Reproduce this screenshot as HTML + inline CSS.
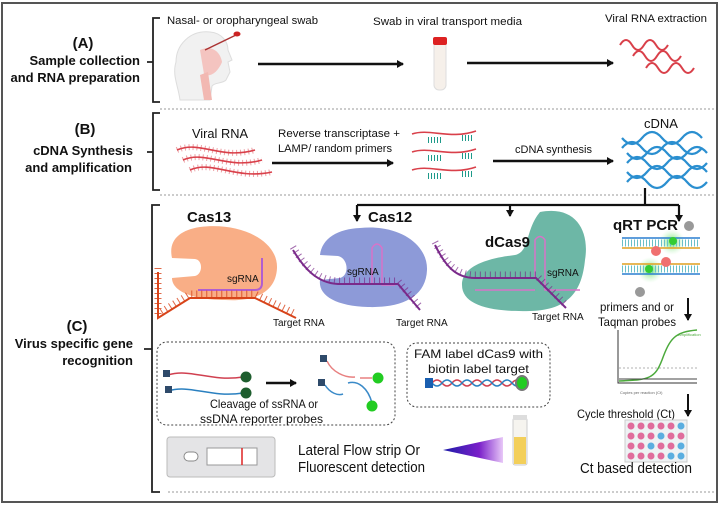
<!DOCTYPE html>
<html><head><meta charset="utf-8"><style>
html,body{margin:0;padding:0;background:#fff;}
svg{display:block;font-family:"Liberation Sans",sans-serif;}
</style></head><body>
<svg width="720" height="505" viewBox="0 0 720 505" xmlns="http://www.w3.org/2000/svg">
<defs>
<marker id="ah" markerWidth="8" markerHeight="8" refX="6" refY="4" orient="auto" markerUnits="userSpaceOnUse"><path d="M0,0 L7,4 L0,8 z" fill="#111"/></marker>
<radialGradient id="glow"><stop offset="0" stop-color="#5fe05f"/><stop offset="1" stop-color="#c8f5c8" stop-opacity="0"/></radialGradient>
<linearGradient id="tri" x1="0" x2="1"><stop offset="0" stop-color="#1c1ca8"/><stop offset="0.6" stop-color="#7a1fc9"/><stop offset="1" stop-color="#e8c8f8"/></linearGradient>
</defs>
<rect x="2" y="3" width="715" height="499" fill="#fff" stroke="#555" stroke-width="2"/>

<g font-weight="bold" fill="#111" text-anchor="end" font-size="13">
<text x="83" y="48" text-anchor="middle" font-size="15">(A)</text>
<text x="140" y="65">Sample collection</text>
<text x="140" y="82">and RNA preparation</text>
<text x="85" y="134" text-anchor="middle" font-size="15">(B)</text>
<text x="133" y="155">cDNA Synthesis</text>
<text x="132" y="172">and amplification</text>
<text x="77" y="331" text-anchor="middle" font-size="15">(C)</text>
<text x="133" y="348">Virus specific gene</text>
<text x="133" y="365">recognition</text>
</g>
<g fill="none" stroke="#222" stroke-width="1.8">
<path d="M160,18 H153 V102 H160 M147,62 H153"/>
<path d="M160,113 H153 V190 H160 M147,152 H153"/>
<path d="M160,205 H152 V492 H160 M144,349 H152"/>
</g>
<g stroke="#999" stroke-width="1" stroke-dasharray="2,2">
<line x1="160" y1="109" x2="715" y2="109"/>
<line x1="160" y1="195" x2="715" y2="195"/>
<line x1="168" y1="492" x2="715" y2="492"/>
</g>

<g font-size="11" fill="#111" lengthAdjust="spacingAndGlyphs">
<text x="167" y="24" textLength="151" lengthAdjust="spacingAndGlyphs">Nasal- or oropharyngeal swab</text>
<text x="373" y="25" textLength="149" lengthAdjust="spacingAndGlyphs">Swab in viral transport media</text>
<text x="605" y="22" textLength="102" lengthAdjust="spacingAndGlyphs">Viral RNA extraction</text>
</g>
<path d="M180,100 C178,85 172,75 176,62 C176,45 190,30 210,32 C222,33 228,42 228,50 L232,60 L228,62 L230,72 L226,80 C222,84 215,82 212,86 L210,100 Z" fill="#f1f1f1" stroke="#ddd"/>
<path d="M200,50 C210,45 220,50 222,62 C218,72 210,78 204,74 Z" fill="#f4c4c0"/>
<path d="M200,75 L204,100 L212,100 L208,72 Z" fill="#f2b8b2"/>
<line x1="205" y1="50" x2="236" y2="35" stroke="#a33" stroke-width="1.5"/>
<ellipse cx="237" cy="34" rx="3.5" ry="2.5" fill="#c22"/>
<line x1="258" y1="64" x2="403" y2="64" stroke="#111" stroke-width="2.5" marker-end="url(#ah)"/>
<rect x="434" y="40" width="12" height="50" rx="5" fill="#f6f0ea" stroke="#ddd"/>
<rect x="433" y="37" width="14" height="8" rx="2" fill="#d22"/>
<line x1="467" y1="63" x2="613" y2="63" stroke="#111" stroke-width="2.5" marker-end="url(#ah)"/>
<g fill="none" stroke="#d9404a" stroke-width="2">
<path d="M620,45 q6,-10 12,0 t12,0 t12,0 t12,0"/>
<path d="M633,56 q6,-10 12,0 t12,0 t12,0 t12,0"/>
<path d="M646,68 q6,-10 12,0 t12,0 t12,0 t12,0"/>
</g>

<g font-size="11" fill="#111">
<text x="192" y="138" font-size="13" textLength="56" lengthAdjust="spacingAndGlyphs">Viral RNA</text>
<text x="278" y="137" textLength="122" lengthAdjust="spacingAndGlyphs">Reverse transcriptase +</text>
<text x="278" y="152" textLength="114" lengthAdjust="spacingAndGlyphs">LAMP/ random primers</text>
<text x="515" y="153" textLength="77" lengthAdjust="spacingAndGlyphs">cDNA synthesis</text>
<text x="644" y="128" font-size="13">cDNA</text>
</g>
<g fill="none" stroke="#d9404a" stroke-width="1.6">
<path d="M177,150 C200,140 220,160 255,150"/>
<path d="M183,160 C205,150 228,170 262,160"/>
<path d="M190,170 C212,160 235,180 272,172"/>
<path d="M177,150 C200,140 220,160 255,150" stroke-dasharray="1,3" stroke-width="6" stroke-opacity="0.5"/>
<path d="M183,160 C205,150 228,170 262,160" stroke-dasharray="1,3" stroke-width="6" stroke-opacity="0.5"/>
<path d="M190,170 C212,160 235,180 272,172" stroke-dasharray="1,3" stroke-width="6" stroke-opacity="0.5"/>
</g>
<line x1="272" y1="163" x2="393" y2="163" stroke="#111" stroke-width="2.5" marker-end="url(#ah)"/>
<g fill="none" stroke-width="1.6">
<g stroke="#d9404a"><path d="M412,134 C430,128 450,140 476,131"/><path d="M412,152 C430,146 450,158 476,149"/><path d="M412,170 C430,164 450,176 476,167"/></g>
<g stroke="#1e9a8a" stroke-width="6" stroke-dasharray="1,2"><path d="M428,140 h14 M462,138 h12 M428,158 h14 M462,156 h12 M428,176 h14 M462,174 h12"/></g>
</g>
<line x1="493" y1="161" x2="613" y2="161" stroke="#111" stroke-width="2.5" marker-end="url(#ah)"/>
<g fill="none" stroke="#2b8fd0" stroke-width="2.2">
<path d="M622,138 q10,12 20,0 t20,0 t20,0 t20,0"/><path d="M622,148 q10,-12 20,0 t20,0 t20,0 t20,0"/>
<path d="M627,153 q10,12 20,0 t20,0 t20,0 t20,0"/><path d="M627,163 q10,-12 20,0 t20,0 t20,0 t20,0"/>
<path d="M627,172 q10,12 20,0 t20,0 t20,0 t20,0"/><path d="M627,182 q10,-12 20,0 t20,0 t20,0 t20,0"/>
</g>

<g stroke="#111" stroke-width="2.2" fill="none">
<path d="M645,188 V205 M357,205 H679"/>
<line x1="357" y1="205" x2="357" y2="221" marker-end="url(#ah)"/>
<line x1="510" y1="205" x2="510" y2="216" marker-end="url(#ah)"/>
<line x1="679" y1="205" x2="679" y2="221" marker-end="url(#ah)"/>
</g>

<text x="187" y="222" font-size="15" font-weight="bold" fill="#111">Cas13</text>
<path d="M200,227 C240,222 278,240 277,268 C276,292 255,302 225,300 C195,300 172,292 172,278 L195,276 C203,274 203,260 195,259 L172,258 C168,240 180,230 200,227 Z" fill="#f9ae86"/>
<path d="M198,290 H255 Q262,290 262,283 V258" fill="none" stroke="#b05ed0" stroke-width="2"/>
<path d="M158,272 V318 L190,298 H255 L296,318" fill="none" stroke="#d8441a" stroke-width="2"/>
<path d="M158,272 V318 L190,298 H255 L296,318" fill="none" stroke="#d8441a" stroke-width="7" stroke-dasharray="1,4" transform="translate(0,-4)" stroke-opacity="0.8"/>
<text x="227" y="282" font-size="10" fill="#111">sgRNA</text>
<text x="273" y="326" font-size="10" fill="#111">Target RNA</text>

<text x="368" y="222" font-size="15" font-weight="bold" fill="#111">Cas12</text>
<path d="M360,228 C400,224 428,245 427,270 C426,298 400,308 368,307 C335,306 318,295 320,280 L340,278 C350,275 348,258 338,256 L320,255 C322,238 338,229 360,228 Z" fill="#8d9ad8"/>
<path d="M372,284 V248 Q377,240 382,248 V285 H395" fill="none" stroke="#d873c8" stroke-width="1.5"/>
<path d="M293,250 C305,270 318,283 338,284 H398 L420,310" fill="none" stroke="#7a2a8a" stroke-width="2"/>
<path d="M293,250 C305,270 318,283 338,284 H398 L420,310" fill="none" stroke="#7a2a8a" stroke-width="7" stroke-dasharray="1,4" stroke-opacity="0.7" transform="translate(0,-3)"/>
<text x="347" y="275" font-size="10" fill="#111">sgRNA</text>
<text x="396" y="326" font-size="10" fill="#111">Target RNA</text>

<path d="M540,212 C575,205 590,230 585,260 C582,290 570,310 530,311 C490,312 462,305 462,285 C462,265 490,258 515,255 C530,252 525,230 540,212 Z" fill="#6db7a6"/>
<text x="485" y="247" font-size="15" font-weight="bold" fill="#111">dCas9</text>
<path d="M535,278 V240 Q540,233 545,240 V290 H580 M475,290 H535" fill="none" stroke="#d873c8" stroke-width="1.5"/>
<path d="M435,245 C445,265 455,278 475,278 H536 L566,308" fill="none" stroke="#7a2a8a" stroke-width="2"/>
<path d="M435,245 C445,265 455,278 475,278 H536 L566,308" fill="none" stroke="#7a2a8a" stroke-width="7" stroke-dasharray="1,4" stroke-opacity="0.7" transform="translate(0,-3)"/>
<text x="547" y="276" font-size="10" fill="#111">sgRNA</text>
<text x="532" y="320" font-size="10" fill="#111">Target RNA</text>

<text x="613" y="230" font-size="15" font-weight="bold" fill="#111">qRT PCR</text>
<circle cx="672" cy="242" r="13" fill="url(#glow)"/>
<circle cx="650" cy="270" r="13" fill="url(#glow)"/>
<g stroke-width="1.6">
<line x1="622" y1="238" x2="700" y2="238" stroke="#2a7fd0"/>
<line x1="622" y1="248" x2="700" y2="248" stroke="#e0a020"/>
<line x1="622" y1="243" x2="700" y2="243" stroke="#6ac0c8" stroke-width="7" stroke-dasharray="1,2"/>
<line x1="622" y1="264" x2="700" y2="264" stroke="#e0a020"/>
<line x1="622" y1="274" x2="700" y2="274" stroke="#2a7fd0"/>
<line x1="622" y1="269" x2="700" y2="269" stroke="#6ac0c8" stroke-width="7" stroke-dasharray="1,2"/>
</g>
<circle cx="656" cy="251" r="5" fill="#f07070"/><circle cx="666" cy="262" r="5" fill="#f07070"/>
<circle cx="673" cy="241" r="4" fill="#3c3"/><circle cx="649" cy="269" r="4" fill="#3c3"/>
<circle cx="689" cy="226" r="5" fill="#999"/><circle cx="640" cy="292" r="5" fill="#999"/>
<text x="600" y="311" font-size="12" fill="#111" textLength="74" lengthAdjust="spacingAndGlyphs">primers and or</text>
<text x="598" y="326" font-size="12" fill="#111" textLength="78" lengthAdjust="spacingAndGlyphs">Taqman probes</text>
<line x1="688" y1="298" x2="688" y2="320" stroke="#111" stroke-width="2" marker-end="url(#ah)"/>
<path d="M618,330 V383 H697" fill="none" stroke="#333" stroke-width="1"/>
<line x1="619" y1="368" x2="697" y2="368" stroke="#999" stroke-width="0.8" stroke-dasharray="2,2"/>
<path d="M619,381 C650,380 655,378 662,360 C670,338 675,332 697,330" fill="none" stroke="#4caa3c" stroke-width="1.5"/>
<line x1="619" y1="379" x2="697" y2="379" stroke="#444" stroke-width="1"/>
<text x="678" y="336" font-size="4" fill="#4caa3c">Amplification</text>
<text x="620" y="394" font-size="4" fill="#666">Copies per reaction (Ct)</text>
<line x1="688" y1="394" x2="688" y2="416" stroke="#111" stroke-width="2" marker-end="url(#ah)"/>
<text x="577" y="418" font-size="12" fill="#111" textLength="98" lengthAdjust="spacingAndGlyphs">Cycle threshold (Ct)</text>
<rect x="625" y="420" width="62" height="42" fill="#eef2f4" stroke="#ccc"/>
<g fill="#e06c9c">
<circle cx="631" cy="426" r="3.5"/><circle cx="641" cy="426" r="3.5"/><circle cx="651" cy="426" r="3.5"/><circle cx="661" cy="426" r="3.5"/><circle cx="671" cy="426" r="3.5"/>
<circle cx="631" cy="436" r="3.5"/><circle cx="641" cy="436" r="3.5"/><circle cx="651" cy="436" r="3.5"/><circle cx="671" cy="436" r="3.5"/><circle cx="681" cy="436" r="3.5"/>
<circle cx="631" cy="446" r="3.5"/><circle cx="641" cy="446" r="3.5"/><circle cx="661" cy="446" r="3.5"/><circle cx="671" cy="446" r="3.5"/>
<circle cx="631" cy="456" r="3.5"/><circle cx="641" cy="456" r="3.5"/><circle cx="651" cy="456" r="3.5"/><circle cx="661" cy="456" r="3.5"/>
</g>
<g fill="#5aaee0">
<circle cx="681" cy="426" r="3.5"/><circle cx="661" cy="436" r="3.5"/><circle cx="651" cy="446" r="3.5"/><circle cx="681" cy="446" r="3.5"/><circle cx="671" cy="456" r="3.5"/><circle cx="681" cy="456" r="3.5"/>
</g>
<text x="580" y="473" font-size="15" fill="#111" textLength="112" lengthAdjust="spacingAndGlyphs">Ct based detection</text>

<rect x="157" y="342" width="238" height="83" rx="10" fill="none" stroke="#444" stroke-width="1" stroke-dasharray="2,2"/>
<g fill="none" stroke-width="1.5">
<path d="M168,375 C190,368 210,382 243,377" stroke="#d04050"/>
<path d="M168,391 C190,384 210,398 243,393" stroke="#2a80c0"/>
<path d="M327,361 C332,372 345,378 355,377 M360,378 H372" stroke="#e88080"/>
<path d="M325,385 C330,393 338,396 343,394 M348,383 C358,380 368,388 372,403" stroke="#3a8ac8"/>
</g>
<rect x="163" y="370" width="7" height="7" fill="#2e4a6a"/><rect x="165" y="386" width="7" height="7" fill="#2e4a6a"/>
<rect x="320" y="355" width="7" height="7" fill="#2e4a6a"/><rect x="318" y="379" width="7" height="7" fill="#2e4a6a"/>
<circle cx="246" cy="377" r="5.5" fill="#1e5e2e"/><circle cx="246" cy="393" r="5.5" fill="#1e5e2e"/>
<circle cx="378" cy="378" r="5.5" fill="#2c2"/><circle cx="372" cy="406" r="5.5" fill="#2c2"/>
<line x1="266" y1="383" x2="296" y2="383" stroke="#111" stroke-width="2.5" marker-end="url(#ah)"/>
<text x="210" y="408" font-size="12" fill="#111" textLength="108" lengthAdjust="spacingAndGlyphs">Cleavage of ssRNA or</text>
<text x="200" y="423" font-size="12" fill="#111" textLength="123" lengthAdjust="spacingAndGlyphs">ssDNA reporter probes</text>

<rect x="407" y="343" width="143" height="64" rx="10" fill="none" stroke="#444" stroke-width="1" stroke-dasharray="2,2"/>
<text x="414" y="358" font-size="12" fill="#111" textLength="129" lengthAdjust="spacingAndGlyphs">FAM label dCas9 with</text>
<text x="428" y="373" font-size="12" fill="#111" textLength="101" lengthAdjust="spacingAndGlyphs">biotin label target</text>
<g fill="none" stroke-width="1.5">
<path d="M432,383 q5,-6 10,0 t10,0 t10,0 t10,0 t10,0 t10,0 t10,0 t10,0 t10,0" stroke="#d04050"/>
<path d="M432,383 q5,6 10,0 t10,0 t10,0 t10,0 t10,0 t10,0 t10,0 t10,0 t10,0" stroke="#2a80c0"/>
</g>
<rect x="425" y="378" width="8" height="10" fill="#1a5fb0"/>
<ellipse cx="522" cy="383" rx="7" ry="8" fill="#777"/><ellipse cx="522" cy="383" rx="5" ry="6" fill="#2c2"/>

<rect x="167" y="437" width="108" height="40" rx="3" fill="#e4e4e6" stroke="#bbb"/>
<rect x="184" y="452" width="14" height="9" rx="4.5" fill="#fff" stroke="#888"/>
<rect x="207" y="448" width="50" height="17" fill="#fff" stroke="#999"/>
<line x1="242" y1="448" x2="242" y2="465" stroke="#d22" stroke-width="1.5"/>
<text x="298" y="455" font-size="14.5" fill="#111" textLength="122" lengthAdjust="spacingAndGlyphs">Lateral Flow strip Or</text>
<text x="298" y="472" font-size="14.5" fill="#111" textLength="127" lengthAdjust="spacingAndGlyphs">Fluorescent detection</text>
<path d="M443,450 L503,437 L503,463 Z" fill="url(#tri)"/>
<rect x="513" y="418" width="14" height="47" rx="2" fill="#f6f4ef" stroke="#ccc"/>
<rect x="514" y="437" width="12" height="27" fill="#f3cf5a"/>
<rect x="513" y="415" width="14" height="5" fill="#ddd"/>
</svg>
</body></html>
